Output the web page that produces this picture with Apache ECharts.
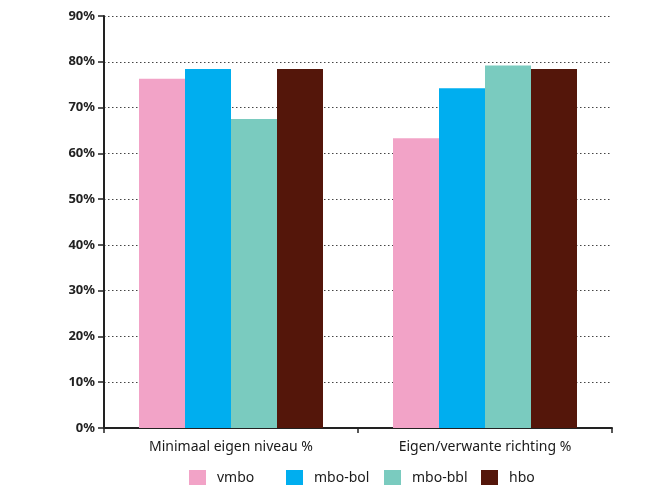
<!DOCTYPE html>
<html>
<head>
<meta charset="utf-8">
<script src="https://cdn.jsdelivr.net/npm/echarts@6/dist/echarts.min.js"></script>
<style>html,body{margin:0;padding:0;background:#fff}#c{width:667px;height:485px}</style>
</head>
<body>
<div id="c"></div>
<script>
var categories = ['Minimaal eigen niveau %', 'Eigen/verwante richting %'];
var seriesNames = ['vmbo', 'mbo-bol', 'mbo-bbl', 'hbo'];
var vmbo = [76.3, 63.3];
var mboBol = [78.4, 74.2];
var mboBbl = [67.5, 79.2];
var hbo = [78.4, 78.4];
var colors = ['#F2A3C7', '#00AEEF', '#7ACBBF', '#54160A'];
var yTicks = [0, 10, 20, 30, 40, 50, 60, 70, 80, 90];

var values = [vmbo, mboBol, mboBbl, hbo];
var legendLeft = [184, 281, 379, 476];
var chart = echarts.init(document.getElementById('c'));
var font = '"Noto Sans", sans-serif';
chart.setOption({
  animation: false,
  grid: {left: 104, right: 55, top: 16, bottom: 57},
  legend: seriesNames.map(function (n, i) {
    return {
      data: [n], left: legendLeft[i], top: 465, itemWidth: 17, itemHeight: 17,
      icon: 'rect', selectedMode: false,
      textStyle: {fontFamily: font, fontSize: 14, color: '#1a1a1a', padding: [0, 0, 0, 6]}
    };
  }),
  xAxis: {
    type: 'category', data: categories,
    axisLine: {lineStyle: {color: '#222', width: 2}},
    axisTick: {show: true, length: 5, lineStyle: {color: '#222', width: 1.5}},
    axisLabel: {fontFamily: font, fontSize: 14, color: '#1a1a1a', margin: 12}
  },
  yAxis: {
    type: 'value', min: yTicks[0], max: yTicks[yTicks.length - 1], interval: 10,
    axisLine: {show: true, lineStyle: {color: '#222', width: 2}},
    axisTick: {show: true, length: 6, lineStyle: {color: '#222', width: 1.5}},
    axisLabel: {fontFamily: font, fontSize: 13, fontWeight: 'bold', color: '#222', margin: 9,
      formatter: function (v) { return v + '%'; }},
    splitLine: {show: true, lineStyle: {color: '#444', width: 1, type: [1.5, 2.5]}}
  },
  series: seriesNames.map(function (n, i) {
    return {
      name: n, type: 'bar', data: values[i], barWidth: 46, barGap: '0%',
      itemStyle: {color: colors[i]}
    };
  })
});
</script>
</body>
</html>
